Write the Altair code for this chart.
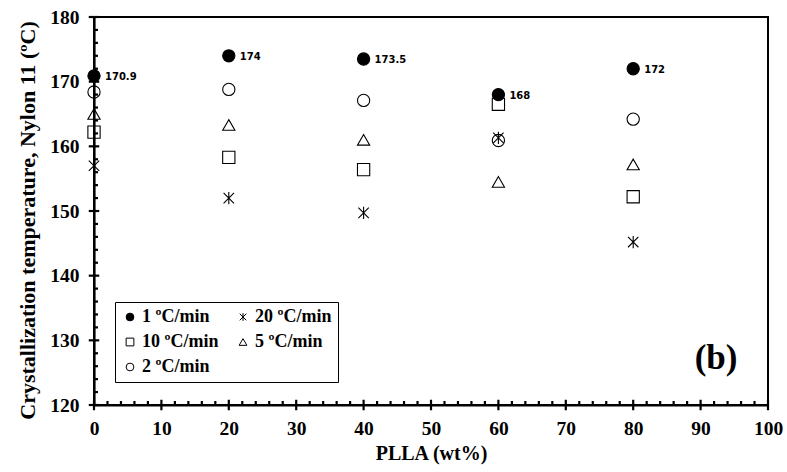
import altair as alt
import pandas as pd

# ---- data ----
plla = [0, 20, 40, 60, 80]
# legend order (column-major: col 1 = 1, 10, 2; col 2 = 20, 5)
series = ["1 ºC/min", "10 ºC/min", "2 ºC/min", "20 ºC/min", "5 ºC/min"]
t_1 = [170.9, 174.0, 173.5, 168.0, 172.0]
t_10 = [162.2, 158.3, 156.4, 166.5, 152.2]
t_2 = [168.4, 168.8, 167.1, 160.9, 164.2]
t_20 = [157.0, 152.0, 149.7, 161.3, 145.2]
t_5 = [165.0, 163.3, 161.0, 154.5, 157.2]
value_labels = ["170.9", "174", "173.5", "168", "172"]
panel_label = ["(b)"]
panel_x = [92.3]
panel_y = [127.2]

x_domain = [0, 100]
y_domain = [120, 180]
x_major = list(range(0, 101, 10))
x_minor = [v for v in range(0, 101, 2) if v % 10]
y_major = list(range(120, 181, 10))
y_minor = [v for v in range(120, 181, 2) if v % 10]

ASTERISK = "M-0.85,-0.85L0.85,0.85M-0.85,0.85L0.85,-0.85M0,-1L0,1"
shape_range = ["circle", "square", "circle", ASTERISK, "triangle-up"]
fill_range = ["black", "transparent", "transparent", "transparent", "transparent"]
stroke_range = ["black"] * 5

# tick glyphs (unit-path symbols): major ticks cross the axis, minor ticks point inward
VTICK_FULL = "M0,-1L0,1"
VTICK_UP = "M0,-1L0,0"
HTICK_FULL = "M-1,0L1,0"
HTICK_RIGHT = "M0,0L1,0"

rows = []
for name, vals in zip(series, [t_1, t_10, t_2, t_20, t_5]):
    for xv, yv in zip(plla, vals):
        rows.append({"plla": xv, "temp": yv, "series": name})
df = pd.DataFrame(rows)
df_lab = pd.DataFrame({"plla": plla, "temp": t_1, "label": value_labels})
df_panel = pd.DataFrame({"plla": panel_x, "temp": panel_y, "label": panel_label})

df_xmaj = pd.DataFrame({"plla": x_major, "temp": [y_domain[0]] * len(x_major), "kind": ["xmaj"] * len(x_major)})
df_xmin = pd.DataFrame({"plla": x_minor, "temp": [y_domain[0]] * len(x_minor), "kind": ["xmin"] * len(x_minor)})
df_ymaj = pd.DataFrame({"plla": [x_domain[0]] * len(y_major), "temp": y_major, "kind": ["ymaj"] * len(y_major)})
df_ymin = pd.DataFrame({"plla": [x_domain[0]] * len(y_minor), "temp": y_minor, "kind": ["ymin"] * len(y_minor)})

W, H = 674, 388
SERIF = "Liberation Serif"

xscale = alt.Scale(domain=x_domain, nice=False, zero=False)
yscale = alt.Scale(domain=y_domain, nice=False, zero=False)

legend = alt.Legend(
    title=None, orient="none", legendX=21, legendY=285, columns=2,
    strokeColor="black", fillColor="white", padding=6,
    symbolSize=60, symbolStrokeWidth=1,
    labelFont=SERIF, labelFontSize=18, labelFontWeight="bold", labelColor="black",
    labelOffset=3, rowPadding=7, columnPadding=15, cornerRadius=0,
)

X = alt.X("plla:Q", scale=xscale, axis=alt.Axis(
    orient="bottom", values=x_major, ticks=False, labelPadding=14, labelFlush=False,
    title="PLLA (wt%)", titlePadding=6, format="d"))
Y = alt.Y("temp:Q", scale=yscale, axis=alt.Axis(
    orient="left", values=y_major, ticks=False, labelPadding=15, labelFlush=False,
    title="Crystallization temperature, Nylon 11 (ºC)", titlePadding=10,
    titleY=203, format="d"))

points = alt.Chart(df).mark_point(
    stroke="black", strokeWidth=1.1, opacity=1, fillOpacity=1, size=150
).encode(
    x=X, y=Y,
    shape=alt.Shape("series:N", scale=alt.Scale(domain=series, range=shape_range), legend=legend),
    fill=alt.Fill("series:N", scale=alt.Scale(domain=series, range=fill_range), legend=legend),
    stroke=alt.Stroke("series:N", scale=alt.Scale(domain=series, range=stroke_range), legend=legend),
)


def tick_layer(data, path, size):
    return alt.Chart(data).mark_point(
        shape=path, size=size, filled=False, stroke="#000000", fill="transparent",
        strokeWidth=2.2, opacity=1, strokeOpacity=1
    ).encode(x="plla:Q", y="temp:Q")


xmaj = tick_layer(df_xmaj, VTICK_FULL, 110)
xmin = tick_layer(df_xmin, VTICK_UP, 64)
ymaj = tick_layer(df_ymaj, HTICK_FULL, 110)
ymin = tick_layer(df_ymin, HTICK_RIGHT, 64)

labels = alt.Chart(df_lab).mark_text(
    align="left", baseline="middle", dx=11, dy=1,
    font="DejaVu Sans", fontSize=10, fontWeight="bold", color="black"
).encode(x="plla:Q", y="temp:Q", text="label:N")

panel = alt.Chart(df_panel).mark_text(
    align="center", baseline="middle", font=SERIF, fontSize=35,
    fontWeight="bold", color="black"
).encode(x="plla:Q", y="temp:Q", text="label:N")

chart = alt.layer(points, labels, panel, xmaj, xmin, ymaj, ymin).properties(
    width=W, height=H,
    autosize=alt.AutoSizeParams(type="none"),
    padding={"left": 94, "top": 17, "right": 19, "bottom": 67},
).configure_view(
    stroke="black", strokeWidth=2
).configure_legend(
    strokeWidth=1
).configure_axis(
    grid=False, domainColor="black", domainWidth=2.2,
    labelFont=SERIF, labelFontSize=19.5, labelFontWeight="bold", labelColor="black",
    titleFont=SERIF, titleFontSize=20, titleFontWeight="bold", titleColor="black",
).configure_axisY(
    titleFontSize=22
)

chart.save("out.html", embed_options={"renderer": "svg", "actions": False})
